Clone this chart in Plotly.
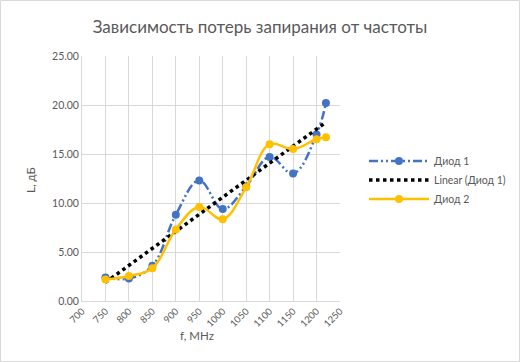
import numpy as np
import plotly.graph_objects as go

freq = [750, 800, 850, 900, 950, 1000, 1050, 1100, 1150, 1200, 1220]
diode1 = [2.4, 2.3, 3.6, 8.8, 12.3, 9.4, 11.7, 14.7, 13.0, 17.0, 20.2]
diode2 = [2.2, 2.55, 3.35, 7.3, 9.6, 8.35, 11.6, 16.0, 15.5, 16.5, 16.7]
x_ticks = list(range(700, 1251, 50))
y_ticks = [0, 5, 10, 15, 20, 25]

coef = np.polyfit(freq, diode1, 1)
trend_x = [min(freq), max(freq)]
trend_y = [float(np.polyval(coef, v)) for v in trend_x]

grey = "#595959"
fig = go.Figure()
fig.add_trace(go.Scatter(
    x=freq, y=diode1, name="Диод 1", mode="lines+markers",
    line=dict(color="#4472C4", width=2.5, shape="spline", smoothing=1.1, dash="9px,3px,2px,3px,2px,3px"),
    marker=dict(color="#4472C4", size=8)))
fig.add_trace(go.Scatter(
    x=trend_x, y=trend_y, name="Linear (Диод 1)", mode="lines",
    line=dict(color="black", width=3.5, dash="dot")))
fig.add_trace(go.Scatter(
    x=freq, y=diode2, name="Диод 2", mode="lines+markers",
    line=dict(color="#FFC000", width=2.5, shape="spline", smoothing=1.1),
    marker=dict(color="#FFC000", size=8)))

L, R, T, B = 82, 180, 56, 61
W, H = 520, 362
pw, ph = W - L - R, H - T - B

fig.update_layout(
    width=W, height=H,
    margin=dict(l=L, r=R, t=T, b=B, autoexpand=False),
    paper_bgcolor="white", plot_bgcolor="white",
    font=dict(family="Lato, Carlito, sans-serif", color=grey, size=10),
    title=dict(text="Зависимость потерь запирания от частоты", x=0.5, xanchor="center",
               y=1 - 27 / H, yanchor="middle", font=dict(size=17, color=grey)),
    xaxis=dict(range=[700, 1250], tickvals=x_ticks, tickangle=-45, automargin=False,
               showgrid=True, gridcolor="#d9d9d9", gridwidth=1,
               showline=True, linecolor="#d9d9d9", zeroline=False,
               ticks="", tickfont=dict(size=9.5, color=grey)),
    yaxis=dict(range=[0, 25], tickvals=y_ticks, tickformat=".2f", automargin=False,
               showgrid=True, gridcolor="#d9d9d9", gridwidth=1,
               showline=True, linecolor="#d9d9d9", zeroline=False,
               ticks="", tickfont=dict(size=10.5, color=grey)),
    legend=dict(x=(364 - L) / pw, xanchor="left", y=(H - B - 180) / ph, yanchor="middle",
                font=dict(size=10.5, color=grey), bgcolor="rgba(0,0,0,0)",
                itemwidth=60, tracegroupgap=0),
    showlegend=True,
)
fig.add_annotation(text="f, MHz", xref="paper", yref="paper",
                   x=(197 - L) / pw, y=-(335 - (H - B)) / ph,
                   xanchor="center", yanchor="middle", showarrow=False,
                   font=dict(size=11.5, color=grey))
fig.add_annotation(text="L, дБ", xref="paper", yref="paper",
                   x=-(L - 30) / pw, y=(H - B - 180) / ph, textangle=-90,
                   xanchor="center", yanchor="middle", showarrow=False,
                   font=dict(size=11.5, color=grey))
fig.add_shape(type="rect", xref="paper", yref="paper",
              x0=-(L - 0.5) / pw, x1=(W - L - 0.5) / pw,
              y0=-(B - 0.5) / ph, y1=(H - B - 0.5) / ph,
              line=dict(color="#d9d9d9", width=1), layer="below")
fig.write_html("out.html", config={"displayModeBar": False})

with open("out.html", encoding="utf-8") as f:
    html = f.read()
html = html.replace("<head>", "<head><style>html,body{margin:0;padding:0;overflow:hidden;}</style>", 1)
with open("out.html", "w", encoding="utf-8") as f:
    f.write(html)
